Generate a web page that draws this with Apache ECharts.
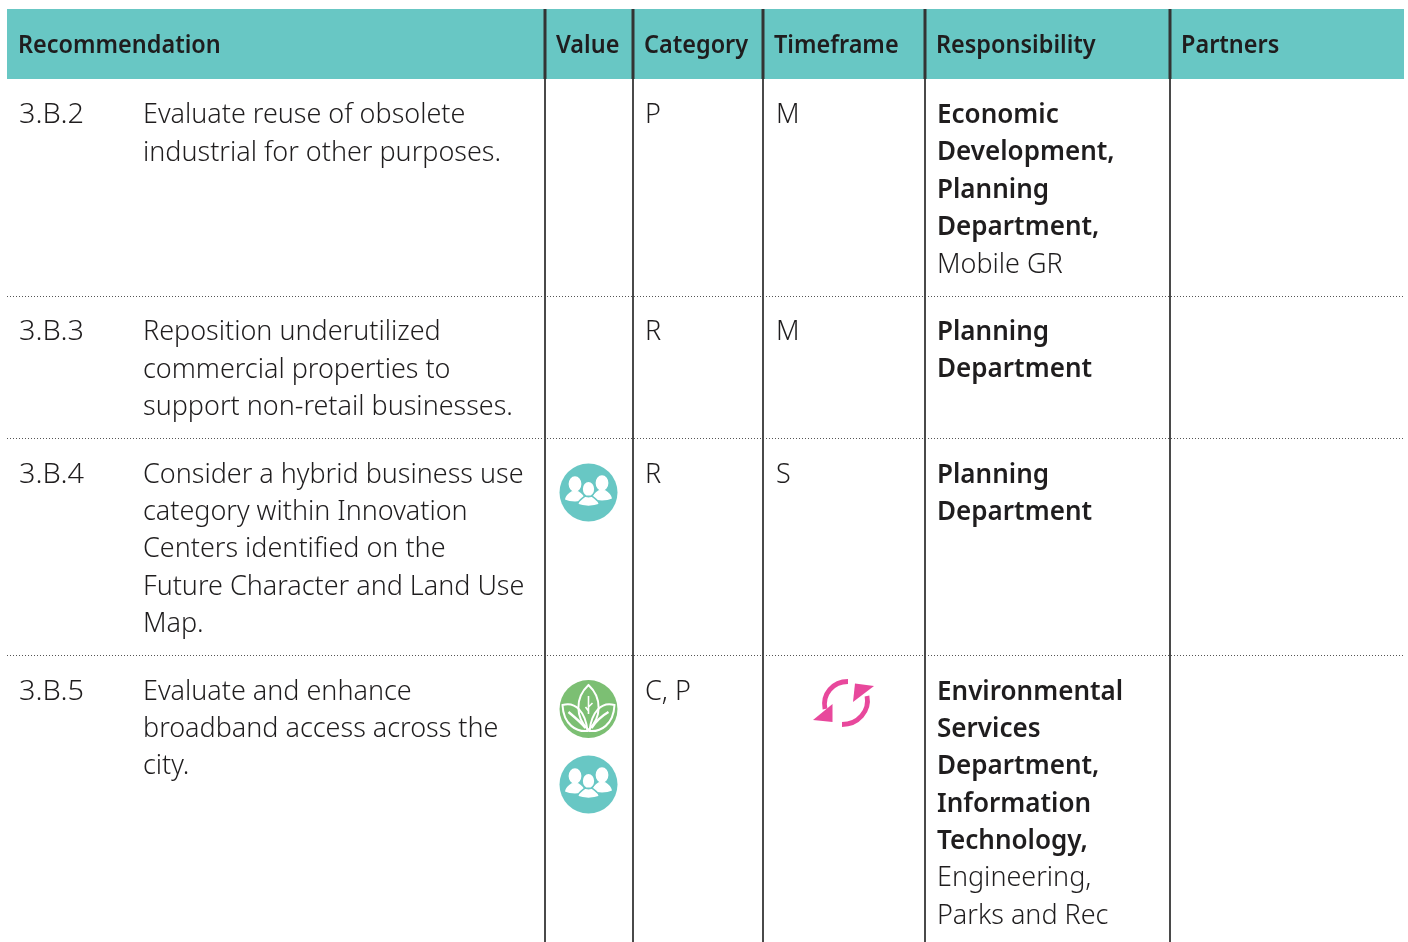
<!DOCTYPE html>
<html><head><meta charset="utf-8">
<style>html,body{margin:0;padding:0;background:#fff}#c{width:1408px;height:942px}</style>
<script src="https://cdn.jsdelivr.net/npm/echarts@6/dist/echarts.min.js"></script>
</head><body><div id="c"></div>
<script>
const headers = ['Recommendation','Value','Category','Timeframe','Responsibility','Partners'];
const rowIds = ['3.B.2','3.B.3','3.B.4','3.B.5'];
const recommendations = [
  ['Evaluate reuse of obsolete','industrial for other purposes.'],
  ['Reposition underutilized','commercial properties to','support non-retail businesses.'],
  ['Consider a hybrid business use','category within Innovation','Centers identified on the','Future Character and Land Use','Map.'],
  ['Evaluate and enhance','broadband access across the','city.']
];
const categories = ['P','R','R','C, P'];
const timeframes = ['M','M','S',''];
const responsibleLead = [
  ['Economic','Development,','Planning','Department,'],
  ['Planning','Department'],
  ['Planning','Department'],
  ['Environmental','Services','Department,','Information','Technology,']
];
const responsibleOther = [['Mobile GR'],[],[],['Engineering,','Parks and Rec']];
const valueIcons = [[],[],['people'],['leaf','people']];
const timeframeIcons = [null,null,null,'cycle'];

const W=1408,H=942;
const FONT='"Noto Sans"';
const REG=27.5, BOLD=27, HEAD=25.5;
const colLines=[545,633,763,925,1170];
const headX=[18,556,644,774,936,1181];
const idX=19,recX=143,catX=645,tfX=776,respX=937;
const rowLines=[297,439,656];
const firstLine=[115.5,332.5,475,692];
const lineStep=37.3;
const iconX=588.5,iconY=[[],[],[492.5],[709,784.5]];
const ink='#1f1d1e';

const texts=[];
const add=(x,y,t,w,s,sx)=>texts.push([x,y,t,w,s,sx]);
const REGSX=0.98, IDSX=1.05, BOLDSX=0.964, HEADSX=0.92;
headers.forEach((h,i)=>add(headX[i],45.5,h,600,HEAD,HEADSX));
rowIds.forEach((id,r)=>{
  const y0=firstLine[r];
  add(idX,y0,id,300,REG,IDSX);
  recommendations[r].forEach((l,i)=>add(recX,y0+i*lineStep,l,300,REG,REGSX));
  add(catX,y0,categories[r],300,REG,REGSX);
  if(timeframes[r])add(tfX,y0,timeframes[r],300,REG,REGSX);
  responsibleLead[r].forEach((l,i)=>add(respX,y0+i*lineStep,l,600,BOLD,BOLDSX));
  const n=responsibleLead[r].length;
  responsibleOther[r].forEach((l,i)=>add(respX,y0+(n+i)*lineStep,l,300,REG,REGSX));
});

const icons=[];
valueIcons.forEach((list,r)=>list.forEach((k,i)=>icons.push([iconX,iconY[r][i],k])));
timeframeIcons.forEach((k,r)=>{if(k)icons.push([845,703,k]);});

const oval=(cx,cy,rx,ry)=>`M${cx-rx},${cy}A${rx},${ry},0,1,1,${cx+rx},${cy}A${rx},${ry},0,1,1,${cx-rx},${cy}Z`;
const person=(dx,dy,sw)=>oval(dx,dy,6.4,7.8)+
 `M${dx-sw-1},${dy+15.5}C${dx-sw},${dy+11} ${dx-7},${dy+10} ${dx-3.5},${dy+7.2}L${dx+3.5},${dy+7.2}C${dx+7},${dy+10} ${dx+sw},${dy+11} ${dx+sw+1},${dy+15.5}C${dx+5},${dy+18} ${dx-5},${dy+18} ${dx-sw-1},${dy+15.5}Z`;
const TEAL='#68c7c4',GREEN='#7cbf73',PINK='#e8489c';
function peopleIcon(){return [
 {type:'circle',shape:{cx:0,cy:0,r:29},style:{fill:TEAL}},
 {type:'path',shape:{pathData:person(-13.5,-8.5,9)+person(13.5,-9.5,9)},style:{fill:'#fff'}},
 {type:'path',shape:{pathData:person(0,-3.5,10)},style:{fill:'#fff',stroke:TEAL,lineWidth:1.5}}
];}
function leafIcon(){
 const s={fill:'none',stroke:'#fff',lineWidth:2};
 return [
 {type:'circle',shape:{cx:0,cy:0,r:29},style:{fill:GREEN}},
 {type:'path',shape:{pathData:'M0,21C-13,9 -14,-11 0,-24C14,-11 13,9 0,21Z'},style:s},
 {type:'path',shape:{pathData:'M-1,22C-12,23 -25,16 -26,-4C-13,-8 -3,3 -1,22Z'},style:s},
 {type:'path',shape:{pathData:'M1,22C12,23 25,16 26,-4C13,-8 3,3 1,22Z'},style:s},
 {type:'path',shape:{pathData:'M-20,3C-14,8 -7,14 -3,19'},style:Object.assign({},s,{lineWidth:2.4})},
 {type:'path',shape:{pathData:'M20,3C13,7 7,13 3,19'},style:Object.assign({},s,{lineWidth:2.4})},
 {type:'path',shape:{pathData:'M0,-13L0,5M0,-2L4,-6M0,2L-3,-2'},style:Object.assign({},s,{lineWidth:1.6})}
];}
function cycleIcon(){
 const s={fill:'none',stroke:PINK,lineWidth:4.8};
 return [
 {type:'path',shape:{pathData:'M3,-21.5C-12,-21.5 -23,-9 -20,6'},style:s},
 {type:'path',shape:{pathData:'M-3,21.5C13,21.5 25,8 22,-7'},style:s},
 {type:'polygon',shape:{points:[[-32,17],[-12.5,1],[-12.5,19]]},style:{fill:PINK}},
 {type:'polygon',shape:{points:[[10,-19.5],[29,-17],[8,-1]]},style:{fill:PINK}}
];}
const iconMakers={people:peopleIcon,leaf:leafIcon,cycle:cycleIcon};

const chart=echarts.init(document.getElementById('c'),null,{renderer:'canvas'});
const hiddenAxis=(max,inv)=>({type:'value',min:0,max:max,inverse:inv,show:false});
chart.setOption({
  animation:false,
  backgroundColor:'#fff',
  grid:{left:0,right:0,top:0,bottom:0},
  xAxis:hiddenAxis(W,false),
  yAxis:hiddenAxis(H,true),
  tooltip:{show:false},
  series:[
   {type:'custom',silent:true,z:1,data:[[7,9,1404,79]],renderItem:(p,api)=>{
     const a=api.coord([api.value(0),api.value(1)]),b=api.coord([api.value(2),api.value(3)]);
     return {type:'rect',shape:{x:a[0],y:a[1],width:b[0]-a[0],height:b[1]-a[1]},style:{fill:TEAL}};
   }},
   {type:'custom',silent:true,z:2,data:rowLines.map(y=>[7,y,1405]),renderItem:(p,api)=>{
     const a=api.coord([api.value(0),api.value(1)]),b=api.coord([api.value(2),api.value(1)]);
     return {type:'line',shape:{x1:a[0],y1:a[1]-.5,x2:b[0],y2:b[1]-.5},style:{stroke:'#555',lineWidth:1,lineDash:[1,2]}};
   }},
   {type:'custom',silent:true,z:3,data:colLines.map(x=>[x]),renderItem:(p,api)=>{
     const x=api.coord([api.value(0),0])[0],top=api.coord([0,9])[1],mid=api.coord([0,79])[1],bot=api.coord([0,H])[1];
     return {type:'group',children:[
       {type:'line',shape:{x1:x,y1:top,x2:x,y2:mid},style:{stroke:'#333',lineWidth:3}},
       {type:'line',shape:{x1:x,y1:mid,x2:x,y2:bot},style:{stroke:'#4a4a4a',lineWidth:2}}
     ]};
   }},
   {type:'custom',silent:true,z:4,data:icons.map(d=>[d[0],d[1]]),renderItem:(p,api)=>{
     const c=api.coord([api.value(0),api.value(1)]);
     return {type:'group',x:c[0],y:c[1],children:iconMakers[icons[p.dataIndex][2]]()};
   }},
   {type:'custom',silent:true,z:5,data:texts.map(d=>[d[0],d[1]]),renderItem:(p,api)=>{
     const c=api.coord([api.value(0),api.value(1)]),t=texts[p.dataIndex];
     return {type:'text',x:c[0],y:c[1],scaleX:t[5],style:{text:t[2],x:0,y:0,fill:ink,align:'left',verticalAlign:'middle',font:`${t[3]} ${t[4]}px ${FONT}`}};
   }}
  ]
});
</script></body></html>
